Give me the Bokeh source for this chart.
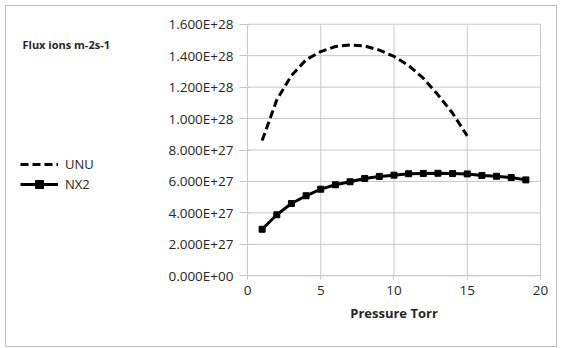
from bokeh.plotting import figure
from bokeh.models import (FixedTicker, CustomJSTickFormatter, Range1d, Legend,
                          LegendItem, Label)
from bokeh.embed import file_html
from bokeh.resources import INLINE

# ---- data ----
unu_x = [1, 2, 3, 4, 5, 6, 7, 8, 9, 10, 11, 12, 13, 14, 15]
unu_y = [8.60e27, 1.119e28, 1.274e28, 1.374e28, 1.426e28, 1.458e28, 1.468e28,
         1.462e28, 1.435e28, 1.395e28, 1.337e28, 1.257e28, 1.151e28, 1.034e28,
         8.90e27]
nx2_x = [1, 2, 3, 4, 5, 6, 7, 8, 9, 10, 11, 12, 13, 14, 15, 16, 17, 18, 19]
nx2_y = [2.96e27, 3.88e27, 4.60e27, 5.09e27, 5.51e27, 5.79e27, 5.98e27,
         6.19e27, 6.32e27, 6.40e27, 6.49e27, 6.51e27, 6.52e27, 6.50e27,
         6.48e27, 6.38e27, 6.33e27, 6.25e27, 6.10e27]
x_ticks = [0, 5, 10, 15, 20]
y_ticks = [0, 2e27, 4e27, 6e27, 8e27, 1e28, 1.2e28, 1.4e28, 1.6e28]
title_text = "Flux ions m-2s-1"
x_label = "Pressure Torr"
series_names = ["UNU", "NX2"]

FONT = "Open Sans"
GRID = "#c8c8c8"
TXT = "#262626"

x0, x1 = x_ticks[0], x_ticks[-1]
y0, y1 = y_ticks[0], y_ticks[-1]

# the frame fills the whole figure; the plot area is placed through the ranges
p = figure(width=552, height=342, output_backend="svg", toolbar_location=None,
           x_range=Range1d(-16.451, 21.229), y_range=Range1d(-4.623e27, 1.7126e28),
           min_border_left=0, min_border_right=0, min_border_top=0,
           min_border_bottom=0)
p.margin = (5, 0, 0, 5)
p.styles = {"border": "1px solid #bfbfbf", "box-sizing": "border-box"}
p.outline_line_color = None
p.grid.visible = False

# gridlines drawn only over the plot area
p.segment(x0=x_ticks, y0=[y0] * len(x_ticks), x1=x_ticks, y1=[y1] * len(x_ticks),
          line_color=GRID, line_width=1)
p.segment(x0=[x0] * len(y_ticks), y0=y_ticks, x1=[x1] * len(y_ticks), y1=y_ticks,
          line_color=GRID, line_width=1)

p.xaxis.ticker = FixedTicker(ticks=x_ticks)
p.yaxis.ticker = FixedTicker(ticks=y_ticks)
p.xaxis.bounds = (x0, x1)
p.yaxis.bounds = (y0, y1)
p.yaxis.fixed_location = x0
p.xaxis.fixed_location = y0
p.yaxis.formatter = CustomJSTickFormatter(code="""
    let s = tick.toExponential(3).toUpperCase();
    s = s.replace(/E([+-])(\\d)$/, 'E$10$2');
    return s;
""")
for ax in (p.xaxis, p.yaxis):
    ax.axis_line_color = GRID
    ax.major_tick_line_color = GRID
    ax.minor_tick_line_color = None
    ax.major_label_text_font = FONT
    ax.major_label_text_font_size = "13.5px"
    ax.major_label_text_color = TXT
p.yaxis.major_tick_in = 3
p.yaxis.major_tick_out = 8
p.yaxis.major_label_standoff = 6
p.xaxis.major_tick_in = 0
p.xaxis.major_tick_out = 4
p.xaxis.major_label_standoff = 6
p.xaxis.axis_label = x_label
p.xaxis.axis_label_text_font = FONT
p.xaxis.axis_label_text_font_style = "bold"
p.xaxis.axis_label_text_font_size = "13px"
p.xaxis.axis_label_text_color = TXT
p.xaxis.axis_label_standoff = 6

r1 = p.line(unu_x, unu_y, line_color="black", line_width=3, line_dash="8 4")
r2 = p.line(nx2_x, nx2_y, line_color="black", line_width=3)
r3 = p.scatter(nx2_x, nx2_y, marker="square", size=6, fill_color="black",
               line_color="black")

legend = Legend(items=[LegendItem(label=series_names[0], renderers=[r1]),
                       LegendItem(label=series_names[1], renderers=[r2, r3])],
                location=(14, 154), padding=0, margin=0, spacing=0,
                glyph_height=20, label_height=20, glyph_width=38,
                label_standoff=7, border_line_color=None,
                background_fill_alpha=0,
                label_text_font=FONT, label_text_font_size="13px",
                label_text_color=TXT)
p.add_layout(legend, "center")

p.add_layout(Label(x=16, y=304, x_units="screen", y_units="screen",
                   text=title_text, text_font=FONT, text_font_style="bold",
                   text_font_size="11px", text_color=TXT,
                   text_baseline="middle"))

open("out.html", "w").write(file_html(p, INLINE))
